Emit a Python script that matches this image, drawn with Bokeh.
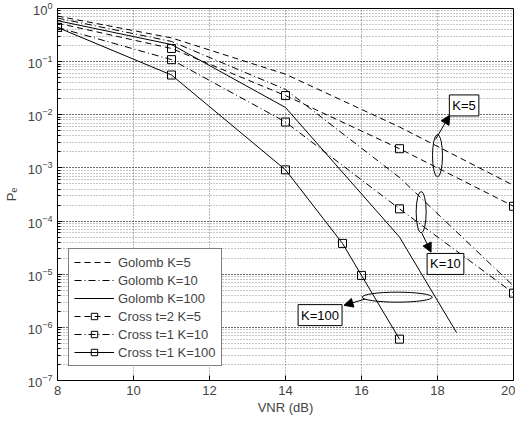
from bokeh.plotting import figure
from bokeh.models import (Range1d, Legend, LegendItem, Arrow,
                          NormalHead, Label, FixedTicker, LogTicker)
from bokeh.embed import file_html
from bokeh.resources import INLINE

# ---------------- data ----------------
vnr_golomb = [8, 11, 14, 17, 20]
golomb_k5 = [0.72, 0.28, 0.058, 0.0059, 4.7e-4]
golomb_k10 = [0.66, 0.24, 0.030, 6.6e-4, 6.0e-6]
vnr_golomb_k100 = [8, 11, 14, 17, 18.5]
golomb_k100 = [0.59, 0.21, 0.0137, 5.0e-5, 8.0e-7]

vnr_cross_k5 = [8, 11, 14, 17, 20]
cross_k5 = [0.53, 0.177, 0.023, 0.0023, 1.9e-4]
vnr_cross_k10 = [8, 11, 14, 17, 20]
cross_k10 = [0.44, 0.109, 0.0073, 1.7e-4, 4.4e-6]
vnr_cross_k100 = [8, 11, 14, 15.5, 16, 17]
cross_k100 = [0.44, 0.056, 9.2e-4, 3.8e-5, 9.5e-6, 6.0e-7]

x_ticks = [8, 10, 12, 14, 16, 18, 20]
labels = ["Golomb K=5", "Golomb K=10", "Golomb K=100",
          "Cross t=2 K=5", "Cross t=1 K=10", "Cross t=1 K=100"]

FONT = "Liberation Sans"
DASH = "6 4"
DASHDOT = "7 3 1 3"

p = figure(frame_width=456, frame_height=372, y_axis_type="log",
           x_range=Range1d(8, 20), y_range=Range1d(1e-7, 1),
           output_backend="svg", toolbar_location=None,
           min_border_left=50, min_border_right=2, min_border_top=8, min_border_bottom=30,
           x_axis_label="VNR (dB)", y_axis_label="Pₑ")
p.background_fill_color = "white"
p.border_fill_color = "white"
p.outline_line_color = "black"
p.outline_line_width = 1

for ax in [p.xaxis[0], p.yaxis[0]]:
    ax.major_label_text_font = FONT
    ax.major_label_text_font_size = "13px"
    ax.axis_label_text_font = FONT
    ax.axis_label_text_font_size = "13px"
    ax.axis_label_text_font_style = "normal"
    ax.major_tick_in = 5
    ax.major_tick_out = 0
    ax.minor_tick_in = 3
    ax.minor_tick_out = 0
    ax.axis_line_color = "black"
p.xaxis.ticker = FixedTicker(ticks=x_ticks)
p.xaxis.minor_tick_line_color = None
p.xaxis.axis_label_standoff = 2
p.yaxis.axis_label_standoff = 6
p.yaxis.ticker = LogTicker(num_minor_ticks=10)

# grid (MATLAB dotted, with minor y grid)
p.xgrid.ticker = FixedTicker(ticks=x_ticks)
p.xgrid.grid_line_color = "black"
p.xgrid.grid_line_alpha = 0.55
p.xgrid.grid_line_dash = "1 2"
p.ygrid.grid_line_color = "black"
p.ygrid.grid_line_alpha = 0.55
p.ygrid.grid_line_dash = "1 2"
p.ygrid.minor_grid_line_color = "black"
p.ygrid.minor_grid_line_alpha = 0.45
p.ygrid.minor_grid_line_dash = "1 2"

# ---------------- curves ----------------
g5 = p.line(vnr_golomb, golomb_k5, line_color="black", line_width=1, line_dash=DASH)
g10 = p.line(vnr_golomb, golomb_k10, line_color="black", line_width=1, line_dash=DASHDOT)
g100 = p.line(vnr_golomb_k100, golomb_k100, line_color="black", line_width=1)

c5 = p.line(vnr_cross_k5, cross_k5, line_color="black", line_width=1, line_dash=DASH)
c5m = p.scatter(vnr_cross_k5[1:], cross_k5[1:], marker="square", size=8,
                fill_color=None, line_color="black", line_width=1)
c10 = p.line(vnr_cross_k10, cross_k10, line_color="black", line_width=1, line_dash=DASHDOT)
c10m = p.scatter(vnr_cross_k10, cross_k10, marker="square", size=8,
                 fill_color=None, line_color="black", line_width=1)
c100 = p.line(vnr_cross_k100, cross_k100, line_color="black", line_width=1)
c100m = p.scatter(vnr_cross_k100, cross_k100, marker="square", size=8,
                  fill_color=None, line_color="black", line_width=1)

legend = Legend(items=[
    LegendItem(label=labels[0], renderers=[g5]),
    LegendItem(label=labels[1], renderers=[g10]),
    LegendItem(label=labels[2], renderers=[g100]),
    LegendItem(label=labels[3], renderers=[c5, c5m]),
    LegendItem(label=labels[4], renderers=[c10, c10m]),
    LegendItem(label=labels[5], renderers=[c100, c100m]),
], location=(11, 14))
legend.label_text_font = FONT
legend.label_text_font_size = "13px"
legend.glyph_width = 40
legend.glyph_height = 16
legend.label_height = 16
legend.spacing = 2
legend.padding = 5
legend.margin = 0
legend.label_standoff = 4
legend.border_line_color = "black"
legend.border_line_width = 1
legend.background_fill_alpha = 1
p.add_layout(legend, "center")

# ---------------- annotations ----------------
p.ellipse(x=[18.0], y=[1.7e-3], width=10, height=42, width_units="screen",
          height_units="screen", fill_color=None, line_color="black", line_width=1)
p.ellipse(x=[17.57], y=[1.47e-4], width=10, height=41, width_units="screen",
          height_units="screen", fill_color=None, line_color="black", line_width=1)
p.ellipse(x=[16.94], y=[3.7e-6], width=70, height=10, width_units="screen",
          height_units="screen", fill_color=None, line_color="black", line_width=1)

head = dict(size=9, fill_color="black", line_color="black")
p.add_layout(Arrow(end=NormalHead(**head), x_start=17.95, y_start=3.45e-3,
                   x_end=18.32, y_end=9.8e-3, line_color="black", line_width=1))
p.add_layout(Arrow(end=NormalHead(**head), x_start=17.59, y_start=5.9e-5,
                   x_end=17.83, y_end=2.6e-5, line_color="black", line_width=1))
p.add_layout(Arrow(end=NormalHead(**head), x_start=16.09, y_start=3.4e-6,
                   x_end=15.54, y_end=2.6e-6, line_color="black", line_width=1))

for (lx, ly, txt) in [(18.7, 0.015, "K=5"), (18.21, 1.56e-5, "K=10"), (14.91, 1.7e-6, "K=100")]:
    p.add_layout(Label(x=lx, y=ly, text=txt, text_align="center", text_baseline="middle",
                       text_font=FONT, text_font_size="13px", text_color="black",
                       border_line_color="black", border_line_width=1,
                       background_fill_color="white", padding=3))

open("out.html", "w").write(file_html(p, INLINE))
